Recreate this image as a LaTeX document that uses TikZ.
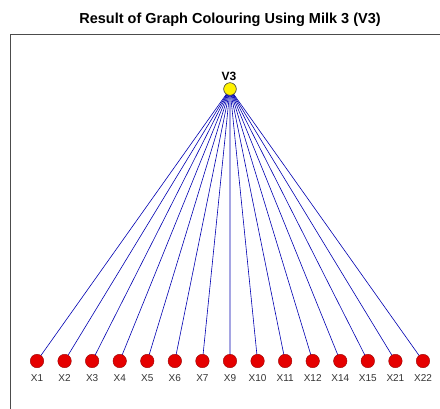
\documentclass[tikz,border=0pt]{standalone}
\usepackage{fontspec}
\setmainfont{Liberation Sans}
\begin{document}
\begin{tikzpicture}[x=1pt,y=-1pt,
  leaf/.style={circle,fill=red!90!black,draw=red!60!black,line width=0.4pt,minimum size=13.5pt,inner sep=0pt},
  root/.style={circle,fill=yellow,draw=black!70,line width=0.5pt,minimum size=12.5pt,inner sep=0pt},
  lbl/.style={font=\fontsize{10}{11}\selectfont,text=black!80,inner sep=0pt},
  edge/.style={draw=blue!70!black,line width=0.6pt}]
\useasboundingbox (0,0) rectangle (440,408);
\fill[white] (0,0) rectangle (440,408);
\draw[black!70,line width=0.8pt] (10,410) -- (10,34.5) -- (442,34.5);
\node[font=\bfseries\fontsize{14.5}{16}\selectfont] (title) at (230,20) {Result of Graph Colouring Using Milk 3 (V3)};
\node[root] (v3) at (230,89) {};
\node[font=\bfseries\fontsize{12}{13}\selectfont,inner sep=0pt] (v3l) at (229,76) {V3};
\foreach \n [count=\i from 0] in {1,2,3,4,5,6,7,9,10,11,12,14,15,21,22}{
  \coordinate (c\n) at (37+27.57*\i,361);
  \draw[edge] (v3.center) -- (c\n);
}
\foreach \n [count=\i from 0] in {1,2,3,4,5,6,7,9,10,11,12,14,15,21,22}{
  \node[leaf] (x\n) at (c\n) {};
  \node[lbl] (l\n) at (37+27.57*\i,378) {X\n};
}
\node[root] at (v3) {};
\end{tikzpicture}
\end{document}
